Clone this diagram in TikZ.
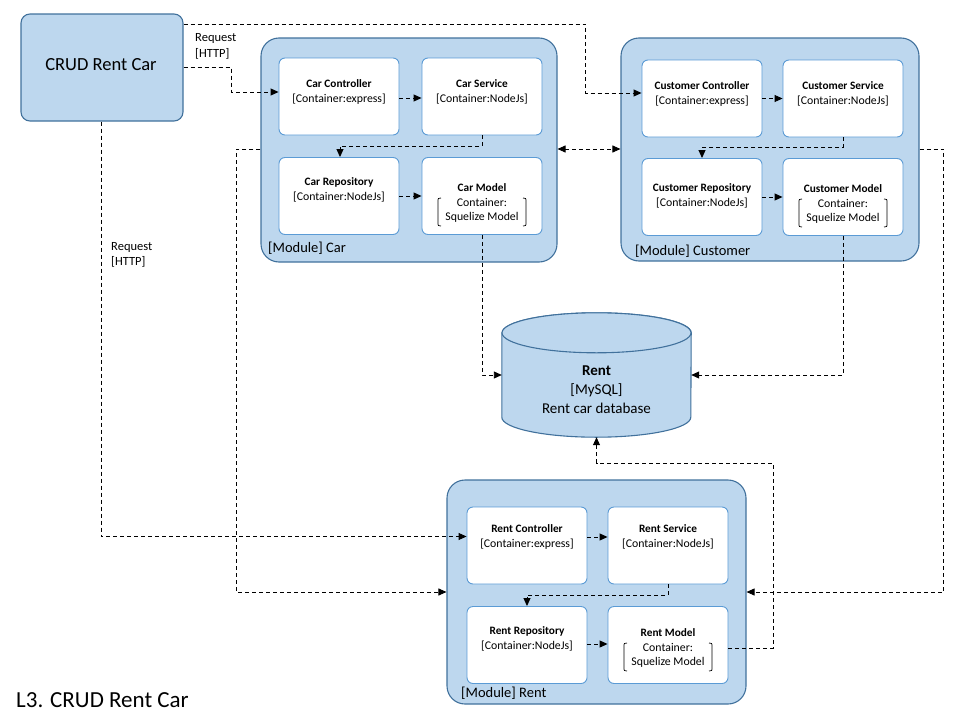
\documentclass[tikz,border=0pt]{standalone}
\usepackage{fontspec}
\setmainfont{Carlito}
\usetikzlibrary{arrows.meta,calc}

\definecolor{modfill}{HTML}{BDD7EE}
\definecolor{modline}{HTML}{41719C}
\definecolor{boxline}{HTML}{5B9BD5}

\tikzset{
  module/.style={draw=modline, fill=modfill, line width=1.1pt, rounded corners=18pt, inner sep=0pt},
  inbox/.style={draw=boxline, fill=white, line width=0.9pt, rounded corners=6pt,
                minimum width=120pt, minimum height=77pt, inner sep=0pt},
  ttl/.style={font=\fontsize{11.3}{13}\selectfont\bfseries, inner sep=0pt, text height=8pt, text depth=2pt},
  sub/.style={font=\fontsize{11.8}{14}\selectfont, inner sep=0pt, text height=9pt, text depth=2.5pt},
  modlbl/.style={font=\fontsize{14.5}{17}\selectfont, anchor=west, inner sep=0pt},
  lbl/.style={font=\fontsize{12.5}{15.5}\selectfont, align=left, anchor=west, inner sep=0pt},
  dep/.style={draw=black, line width=0.9pt, dash pattern=on 4pt off 3pt,
              -{Triangle[length=8pt,width=7pt]}},
  depboth/.style={draw=black, line width=0.9pt, dash pattern=on 4pt off 3pt,
              {Triangle[length=8pt,width=7pt]}-{Triangle[length=8pt,width=7pt]}},
  brk/.style={draw=black, line width=0.7pt},
}

% component box: name, centre x, centre y, title y, title, technology
\newcommand\compbox[6]{%
  \node[inbox] (#1) at (#2,#3) {};
  \node[ttl] (#1t) at (#2,#4) {#5};
  \node[sub] (#1s) at (#2,#4+15) {#6};
}
% model box: name, centre x, centre y, title y, title
\newcommand\modelbox[5]{%
  \node[inbox] (#1) at (#2,#3) {};
  \node[ttl] (#1t) at (#2,#4) {#5};
  \node[sub] (#1a) at (#2,#4+15) {Container:};
  \node[sub] (#1b) at (#2,#4+29) {Squelize Model};
  \draw[brk] (#2-41,#4+10) .. controls (#2-44,#4+10) .. (#2-44,#4+14) -- (#2-44,#4+34)
             .. controls (#2-44,#4+38) .. (#2-41,#4+38);
  \draw[brk] (#2+41,#4+10) .. controls (#2+44,#4+10) .. (#2+44,#4+14) -- (#2+44,#4+34)
             .. controls (#2+44,#4+38) .. (#2+41,#4+38);
}

\begin{document}
\begin{tikzpicture}[x=1pt,y=-1pt]
\useasboundingbox (0,0) rectangle (960,720);

% client application
\node[draw=modline, fill=modfill, line width=1.1pt, rounded corners=9pt,
      minimum width=162pt, minimum height=107pt, inner sep=0pt] (crud) at (102,67.5) {};
\node[font=\fontsize{18.5}{22}\selectfont, inner sep=0pt] (crudt) at (101,65) {CRUD Rent Car};

% modules
\node[module, minimum width=296pt, minimum height=224pt] (modcar) at (409,150) {};
\node[module, minimum width=298pt, minimum height=223pt] (modcust) at (770,149.5) {};
\node[module, minimum width=299pt, minimum height=224pt] (modrent) at (596.5,592) {};
\node[modlbl] (modcarl) at (268,248) {[Module] Car};
\node[modlbl] (modcustl) at (635,251) {[Module] Customer};
\node[modlbl] (modrentl) at (461,693) {[Module] Rent};

% car module
\compbox{carctl}{339}{96.5}{84}{Car Controller}{[Container:express]}
\compbox{carsvc}{482}{96.5}{84}{Car Service}{[Container:NodeJs]}
\compbox{carrep}{339}{196}{182}{Car Repository}{[Container:NodeJs]}
\modelbox{carmod}{482}{196}{188}{Car Model}

% customer module
\compbox{custctl}{702}{98.5}{86}{Customer Controller}{[Container:express]}
\compbox{custsvc}{843}{98.5}{86}{Customer Service}{[Container:NodeJs]}
\compbox{custrep}{702}{197}{188}{Customer Repository}{[Container:NodeJs]}
\modelbox{custmod}{843}{197}{189}{Customer Model}

% rent module
\compbox{rentctl}{527}{545.5}{529}{Rent Controller}{[Container:express]}
\compbox{rentsvc}{668}{545.5}{529}{Rent Service}{[Container:NodeJs]}
\compbox{rentrep}{527}{645}{631}{Rent Repository}{[Container:NodeJs]}
\modelbox{rentmod}{668}{645}{633}{Rent Model}

% database
\node[inner sep=0pt, minimum width=189pt, minimum height=84pt] (db) at (596.5,375) {};
\path[fill=modfill, draw=modline, line width=1.1pt]
  (db.north west) -- (db.south west)
  arc[start angle=180, end angle=360, x radius=94.5pt, y radius=20pt]
  -- (db.north east)
  arc[start angle=0, end angle=180, x radius=94.5pt, y radius=20pt] -- cycle;
\draw[fill=modfill, draw=modline, line width=1.1pt] (db.north) ellipse[x radius=94.5pt, y radius=20pt];
\node[font=\fontsize{15}{19}\selectfont, align=center, inner sep=0pt] (dbt) at (596.5,390)
  {\textbf{Rent}\\{[MySQL]}\\Rent car database};

% requests from the client
\draw[dep] (crud.east) -- ++(48,0) |- ([yshift=4.5pt]carctl.west);
\node[lbl] (req1) at (195,46.5) {Request\\{[HTTP]}};
\draw[dep] ([yshift=43.5pt]crud.east) -| ([xshift=-56pt,yshift=5.5pt]custctl.west)
  -- ([yshift=5.5pt]custctl.west);
\draw[dep] ([xshift=-1pt]crud.south) |- ([yshift=9pt]rentctl.west);
\node[lbl] (req2) at (111,255) {Request\\{[HTTP]}};

% car module internals
\draw[dep] ([yshift=-1.5pt]carctl.east) -- ([yshift=-1.5pt]carsvc.west);
\draw[dep] (carsvc.south) -- ++(0,11) -| ([xshift=1pt]carrep.north);
\draw[dep] (carrep.east) -- (carmod.west);

% customer module internals
\draw[dep] (custctl.east) -- (custsvc.west);
\draw[dep] (custsvc.south) -- ++(0,10) -| (custrep.north);
\draw[dep] (custrep.east) -- (custmod.west);

% rent module internals
\draw[dep] ([yshift=8.5pt]rentctl.east) -- ([yshift=8.5pt]rentsvc.west);
\draw[dep] (rentsvc.south) -- ++(0,11) -| (rentrep.north);
\draw[dep] ([yshift=1pt]rentrep.east) -- ([yshift=1pt]rentmod.west);

% models to database
\draw[dep] (carmod.south) |- (db.west);
\draw[dep] (custmod.south) |- (db.east);
\coordinate (rentbend) at (773,463);
\draw[dep] ([yshift=-3pt]rentmod.east) -| (rentbend) -| ([yshift=-20pt]db.south);

% module to module
\draw[depboth] ([yshift=1pt]modcar.east) -- ([yshift=0.5pt]modcust.west);
\draw[dep] ([yshift=1pt]modcar.west) -- ++(-24,0) |- (modrent.west);
\draw[dep] ([yshift=0.5pt]modcust.east) -- ++(24,0) |- (modrent.east);

% caption
\node[font=\fontsize{23}{27}\selectfont, anchor=west, inner sep=0pt] (cap) at (16,700) {L3. CRUD Rent Car};
\end{tikzpicture}
\end{document}
